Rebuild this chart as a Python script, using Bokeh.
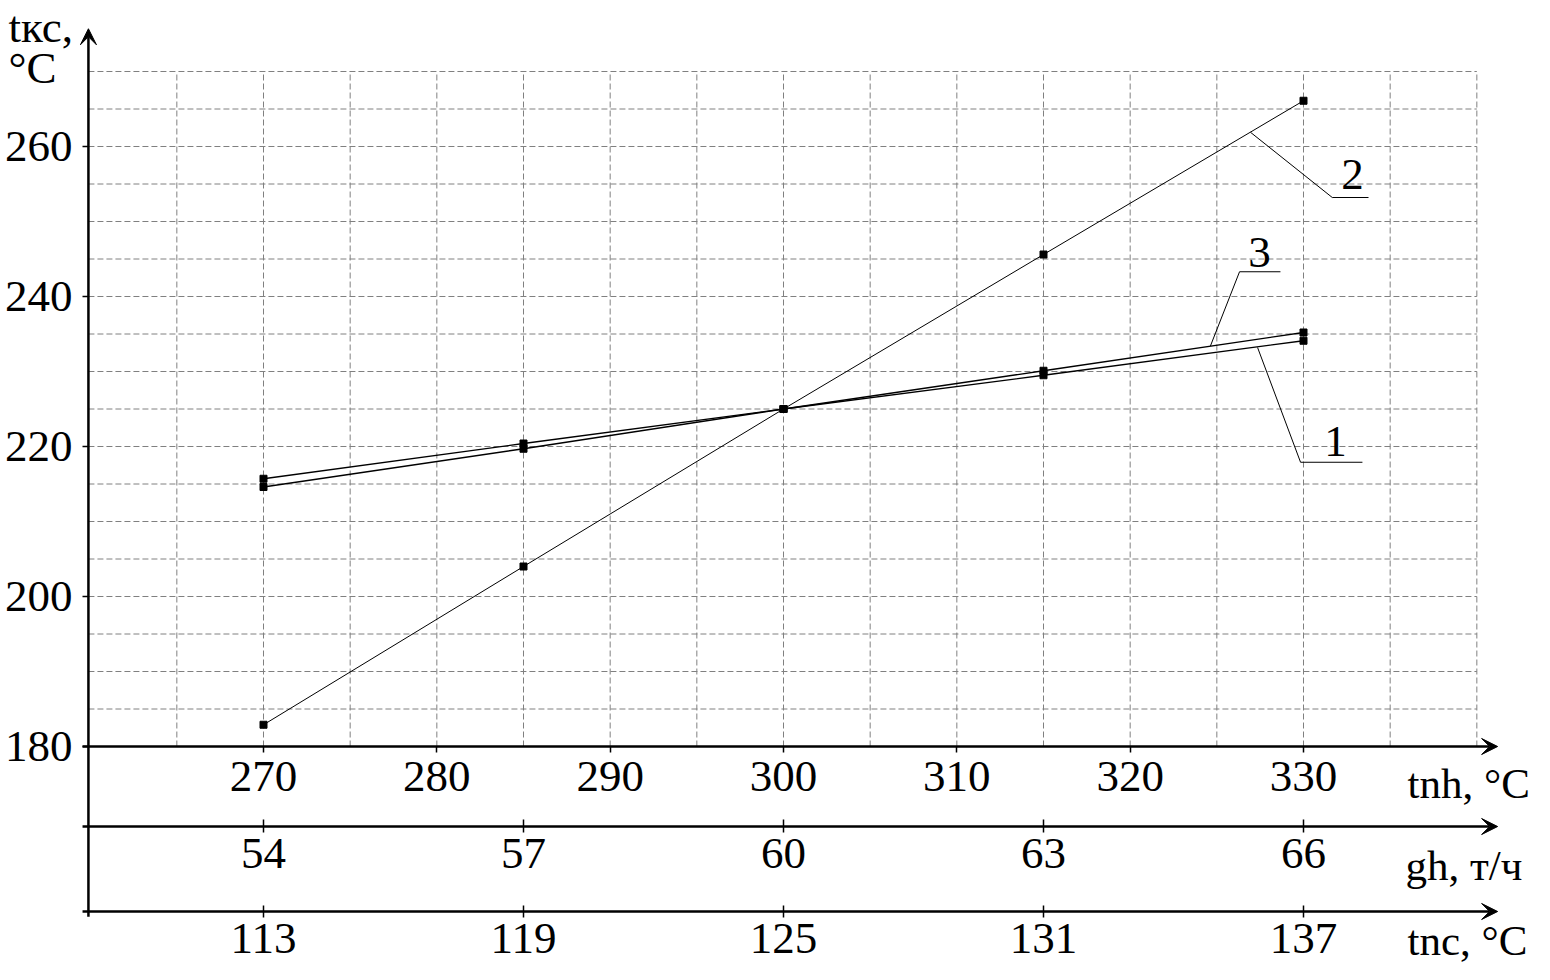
import numpy as np
from bokeh.plotting import figure
from bokeh.models import LinearAxis, FixedTicker, Range1d, Arrow, VeeHead, Label
from bokeh.embed import file_html
from bokeh.resources import INLINE

# ---------------- data ----------------
tnh = [270, 285, 300, 315, 330]          # tnh, °C
gh = [54, 57, 60, 63, 66]                # gh, т/ч
tnc = [113, 119, 125, 131, 137]          # tnc, °C
tks_1 = [214.6, 219.7, 225.0, 229.5, 234.1]
tks_2 = [182.9, 204.0, 225.0, 245.6, 266.1]
tks_3 = [215.7, 220.4, 225.0, 230.1, 235.2]
tnh_ticks = [270, 280, 290, 300, 310, 320, 330]
tks_ticks = [180, 200, 220, 240, 260]
grid_x = list(range(265, 341, 5))
grid_y = list(range(185, 271, 5))

# ---------------- layout constants ----------------
W, H = 1534, 964
X_START = 270 - 263 * 30 / 520
X_END = X_START + W * 30 / 520
Y_END = 180 + 746 / 7.5
Y_START = Y_END - H / 7.5
Y_AXIS_X = 259.9
X_AXIS_LEFT, X_AXIS_RIGHT = 259.56, 341.2
Y_TNH, Y_GH, Y_TNC = 180.0, 169.33, 158.0
FONT = "Liberation Serif"
FS = "45px"
FS_TITLE = "43px"


def lin_map(v, src, dst):
    return dst[0] + (v - src[0]) * (dst[-1] - dst[0]) / (src[-1] - src[0])


p = figure(width=W, height=H,
           x_range=Range1d(X_START, X_END), y_range=Range1d(Y_START, Y_END),
           x_axis_type=None, y_axis_type=None,
           toolbar_location=None, output_backend="svg",
           min_border=0, outline_line_color=None)
p.background_fill_color = "white"
p.border_fill_color = "white"

p.extra_x_ranges = {
    "gh": Range1d(lin_map(X_START, tnh, gh), lin_map(X_END, tnh, gh)),
    "tnc": Range1d(lin_map(X_START, tnh, tnc), lin_map(X_END, tnh, tnc)),
}

# ---------------- dashed grid ----------------
p.segment(x0=grid_x, y0=[Y_TNH] * len(grid_x), x1=grid_x, y1=[270] * len(grid_x),
          line_color="#808080", line_width=1, line_dash="6 3")
p.segment(x0=[Y_AXIS_X] * len(grid_y), y0=grid_y, x1=[340] * len(grid_y), y1=grid_y,
          line_color="#808080", line_width=1, line_dash="6 3")


def style_axis(ax, tick_in, tick_out, standoff):
    ax.axis_line_color = None
    ax.minor_tick_line_color = None
    ax.major_tick_line_color = "black"
    ax.major_tick_line_width = 1.5
    ax.major_tick_in = tick_in
    ax.major_tick_out = tick_out
    ax.major_label_standoff = standoff
    ax.major_label_text_font = FONT
    ax.major_label_text_font_size = FS
    ax.major_label_text_color = "black"


yax = LinearAxis(ticker=FixedTicker(ticks=tks_ticks), fixed_location=Y_AXIS_X)
style_axis(yax, 0, 6, 10)
p.add_layout(yax, "left")

ax1 = LinearAxis(ticker=FixedTicker(ticks=tnh_ticks), fixed_location=Y_TNH)
style_axis(ax1, 0, 6, 9)
p.add_layout(ax1, "below")

ax2 = LinearAxis(x_range_name="gh", ticker=FixedTicker(ticks=gh), fixed_location=Y_GH)
style_axis(ax2, 7, 6, 6)
p.add_layout(ax2, "below")

ax3 = LinearAxis(x_range_name="tnc", ticker=FixedTicker(ticks=tnc), fixed_location=Y_TNC)
style_axis(ax3, 6, 6, 6)
p.add_layout(ax3, "below")


# axis lines with arrow heads
def head():
    return VeeHead(size=16, fill_color="black", line_color="black", line_width=1)


p.add_layout(Arrow(x_start=Y_AXIS_X, y_start=157.3, x_end=Y_AXIS_X, y_end=275.7,
                   end=head(), line_width=2.5, line_color="black"))
for yy in (Y_TNH, Y_GH, Y_TNC):
    p.add_layout(Arrow(x_start=X_AXIS_LEFT, y_start=yy, x_end=X_AXIS_RIGHT, y_end=yy,
                       end=head(), line_width=2.5, line_color="black"))

# ---------------- series ----------------
p.line(tnh, tks_2, line_color="black", line_width=1)
p.scatter(tnh, tks_2, marker="square", size=7, color="black")
p.line(tnh, tks_3, line_color="black", line_width=1.3)
p.scatter(tnh, tks_3, marker="square", size=7, color="black")
p.line(tnh, tks_1, line_color="black", line_width=1.3)
p.scatter(tnh, tks_1, marker="square", size=7, color="black")

# leader lines for the curve numbers
p.line([326.94, 331.66, 333.75], [261.9, 253.2, 253.2], line_color="black", line_width=1)
p.line([324.63, 326.31, 328.67], [233.4, 243.3, 243.3], line_color="black", line_width=1)
p.line([327.35, 329.83, 333.4], [233.2, 217.9, 217.9], line_color="black", line_width=1)


def label(x, y, text, align="left", size=FS):
    p.add_layout(Label(x=x, y=y, text=text, text_font=FONT, text_font_size=size,
                       text_color="black", text_align=align, text_baseline="alphabetic"))


label(332.83, 256.33, "2", "center")
label(327.46, 245.87, "3", "center")
label(331.85, 220.73, "1", "center")

# axis titles
label(255.29, 275.87, "tкс,")
label(255.29, 270.5, "°C")
label(336.0, 175.07, "tnh, °C", size=FS_TITLE)
label(335.88, 164.13, "gh, т/ч", size=FS_TITLE)
label(336.0, 154.2, "tnc, °C", size=FS_TITLE)

open("out.html", "w").write(file_html(p, INLINE))
